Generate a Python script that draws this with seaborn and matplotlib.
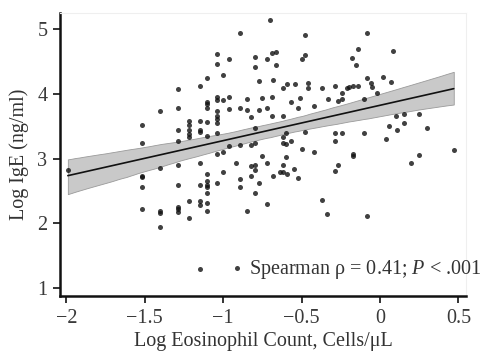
import numpy as np
import pandas as pd
import matplotlib
matplotlib.use("Agg")
import matplotlib.pyplot as plt
import seaborn as sns

# Log eosinophil count (x) and log IgE (y)
log_eos = [
    -1.99,
    -1.52, -1.52, -1.52, -1.52, -1.52, -1.52,
    -1.40, -1.40, -1.40, -1.40, -1.40,
    -1.29, -1.29, -1.29, -1.29, -1.29, -1.29, -1.29, -1.29, -1.29,
    -1.22, -1.22, -1.22, -1.22, -1.22, -1.22, -1.22,
    -1.15, -1.15, -1.15, -1.15, -1.15, -1.15, -1.15, -1.15, -1.15,
    -1.10, -1.10, -1.10, -1.10, -1.10, -1.10, -1.10, -1.10, -1.10, -1.10, -1.10, -1.10, -1.10,
    -1.04, -1.04, -1.04, -1.04, -1.04, -1.04, -1.04, -1.04, -1.04, -1.04, -1.04,
    -1.00, -1.00, -1.00, -1.00,
    -0.96, -0.96, -0.96, -0.96,
    -0.92,
    -0.89, -0.89, -0.89, -0.89, -0.89,
    -0.85, -0.85, -0.85,
    -0.82, -0.82, -0.82, -0.82,
    -0.80, -0.80, -0.80, -0.80, -0.80, -0.80, -0.80,
    -0.77, -0.77, -0.77,
    -0.75, -0.75,
    -0.72, -0.72, -0.72, -0.72,
    -0.70,
    -0.69, -0.69, -0.69,
    -0.68, -0.68,
    -0.66, -0.66,
    -0.64,
    -0.62, -0.62, -0.62, -0.62, -0.62, -0.62,
    -0.60, -0.60, -0.60,
    -0.59, -0.59,
    -0.57, -0.57,
    -0.55,
    -0.54,
    -0.52, -0.52,
    -0.51,
    -0.50, -0.50,
    -0.48, -0.48, -0.48,
    -0.46, -0.46,
    -0.42, -0.42,
    -0.37, -0.37,
    -0.34,
    -0.33,
    -0.29, -0.29, -0.29, -0.29,
    -0.27, -0.27,
    -0.24, -0.24, -0.24,
    -0.21,
    -0.20,
    -0.18,
    -0.17, -0.17, -0.17,
    -0.15,
    -0.14, -0.14,
    -0.10, -0.10,
    -0.08, -0.08, -0.08,
    -0.06,
    -0.05,
    -0.02,
    0.02,
    0.04,
    0.06,
    0.07,
    0.08,
    0.10,
    0.11,
    0.15, 0.15,
    0.20,
    0.25, 0.25,
    0.30,
    0.47,
]
log_ige = [
    2.82,
    3.52, 3.24, 2.74, 2.71, 2.56, 2.23,
    3.73, 2.85, 2.19, 2.16, 1.94,
    4.07, 3.79, 3.45, 3.28, 2.90, 2.59, 2.25, 2.22, 2.17,
    3.58, 3.52, 3.44, 3.38, 3.33, 2.34, 2.08,
    4.12, 3.59, 3.45, 3.41, 2.93, 2.59, 2.34, 2.28, 1.29,
    4.24, 3.87, 3.84, 3.79, 3.56, 3.35, 2.77, 2.65, 2.60, 2.56, 2.47, 2.31, 2.19,
    4.61, 4.47, 3.96, 3.90, 3.73, 3.66, 3.61, 3.55, 3.39, 3.08, 2.62,
    4.29, 3.90, 3.11, 2.79,
    4.54, 3.95, 3.76, 3.19,
    2.94,
    4.94, 3.79, 3.21, 2.68, 2.57,
    3.92, 3.75, 2.19,
    3.64, 3.21, 2.88, 2.74,
    4.57, 4.41, 3.47, 3.25, 2.91, 2.82, 2.47,
    4.20, 3.75, 2.62,
    3.93, 3.04,
    4.54, 3.78, 2.93, 2.30,
    5.14,
    4.63, 3.95, 3.66,
    4.21, 2.74,
    4.64, 4.44,
    2.79,
    4.09, 3.66, 3.33, 3.24, 2.91, 2.79,
    3.39, 3.22, 3.02,
    4.15, 2.77,
    3.87, 3.28,
    2.84,
    4.15,
    3.78, 2.70,
    3.93,
    4.54, 3.15,
    4.91, 4.60, 3.41,
    4.17, 4.09,
    3.81, 3.10,
    4.09, 2.37,
    2.14,
    3.92,
    4.12, 3.39, 3.28, 2.81,
    3.89, 2.91,
    4.01, 3.92, 3.39,
    4.09,
    4.10,
    4.55,
    4.12, 3.07, 3.04,
    4.44,
    4.69, 4.12,
    3.92, 3.39,
    4.94, 4.24, 2.11,
    4.17,
    4.10,
    4.01,
    4.26,
    3.30,
    3.50,
    4.18,
    4.66,
    3.66,
    3.44,
    3.69, 3.55,
    2.93,
    3.69, 3.05,
    3.47,
    3.13,
]
x_ticks = [-2, -1.5, -1, -0.5, 0, 0.5]
x_ticklabels = ["−2", "−1.5", "−1", "−0.5", "0", "0.5"]
y_ticks = [1, 2, 3, 4, 5]
stat_label = "Spearman ρ = 0.41; $P$ < .001"

df = pd.DataFrame({"eos": log_eos, "ige": log_ige})

sns.set_style("white")
plt.rcParams["font.family"] = ["Liberation Serif", "DejaVu Serif"]
plt.rcParams["mathtext.fontset"] = "custom"
plt.rcParams["mathtext.rm"] = "Liberation Serif"
plt.rcParams["mathtext.it"] = "Liberation Serif:italic"

fig = plt.figure(figsize=(4.97, 3.54), dpi=100)
ax = fig.add_axes([0.1207, 0.1638, 0.8169, 0.7995])

sns.regplot(data=df, x="eos", y="ige", ax=ax, ci=95, seed=3, n_boot=1000,
            scatter_kws={"s": 13, "color": "#111111", "linewidths": 0, "zorder": 3},
            line_kws={"color": "#111111", "lw": 1.2, "zorder": 2},
            label=stat_label)

# grey confidence band with a darker edge
for coll in ax.collections[1:]:
    coll.set_facecolor("#c9c9c9")
    coll.set_alpha(1)
    coll.set_edgecolor("#9a9a9a")
    coll.set_linewidth(0.6)
    coll.set_zorder(1)

ax.set_xlim(-2.04, 0.548)
ax.set_ylim(0.88, 5.25)
ax.set_xticks(x_ticks)
ax.set_xticklabels(x_ticklabels)
ax.set_yticks(y_ticks)

for side in ["left", "bottom"]:
    ax.spines[side].set_color("#111111")
    ax.spines[side].set_linewidth(1.8)
for side in ["top", "right"]:
    ax.spines[side].set_color("#efefef")
    ax.spines[side].set_linewidth(0.8)

ax.tick_params(axis="both", which="major", direction="out", length=5, width=1.2,
               color="#111111", labelsize=14.5, labelcolor="#3a3a3a", pad=4,
               bottom=True, left=True)

ax.set_xlabel("Log Eosinophil Count, Cells/μL", fontsize=14.5, color="#333333", labelpad=3)
ax.set_ylabel("Log IgE (ng/ml)", fontsize=14.5, color="#333333", labelpad=6)

leg = ax.legend(loc="center left", bbox_to_anchor=(0.415, 0.095), frameon=False,
                fontsize=14.5, handlelength=0.8, handletextpad=0.2, borderpad=0,
                borderaxespad=0, markerscale=1.0)
for t in leg.get_texts():
    t.set_color("#333333")

fig.savefig("out.png", dpi=100)
